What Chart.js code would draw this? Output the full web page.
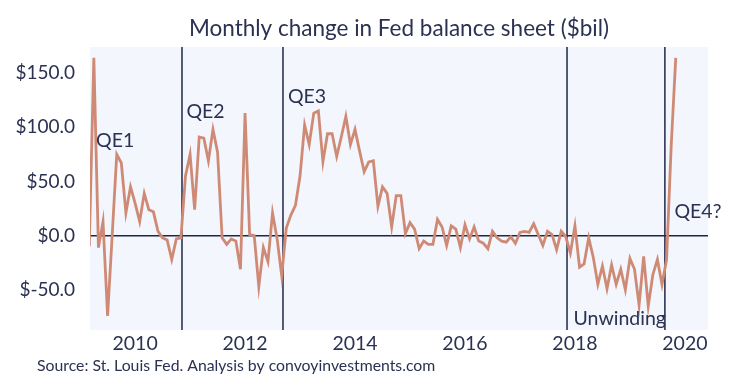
<!DOCTYPE html>
<html><head><meta charset="utf-8">
<script src="https://cdn.jsdelivr.net/npm/chart.js@4"></script>
<style>html,body{margin:0;padding:0;background:#fff;} #wrap{width:733px;height:381px;position:relative;} canvas{display:block;}</style>
</head><body><div id="wrap"><canvas id="c" width="733" height="381"></canvas></div>
<script>
// ---- data ----
const startYear = 2009;
const startMonth = 3; // March 2009
const monthlyChange = [
  -10, 164, -11, 13, -74, 0, 75, 67, 21, 45,
  30, 13, 39, 24, 22, 4, -2, -4, -22, -3,
  -2, 55, 75, 24, 91, 90, 69, 98, 77, -2,
  -8, -3, -5, -31, 113, 1, 0, -47, -11, -24,
  21, -3, -37, 7, 19, 28, 55, 102, 84, 113,
  115, 68, 94, 94, 73, 91, 110, 84, 98, 78,
  59, 68, 69, 27, 45, 39, 8, 37, 37, 2,
  12, 6, -12, -5, -8, -8, 15, 8, -9, 9,
  6, -11, 10, -3, 8, -5, -7, -12, 4, -2,
  -5, -6, -1, -7, 3, 4, 3, 11, 1, -9,
  4, 1, -13, 4, -1, -16, 9, -29, -26, -2,
  -20, -45, -28, -49, -27, -45, -31, -50, -21, -31,
  -64, -19, -65, -36, -22, -45, -22, 82, 164
];
const yTicks = [-50, 0, 50, 100, 150];
const xTicks = [2010, 2012, 2014, 2016, 2018, 2020];
const eventLines = [2010.853, 2012.69, 2017.856, 2019.636];
const annotationLabels = ['QE1', 'QE2', 'QE3', 'QE4?', 'Unwinding'];
const annotationX = [2009.29, 2010.935, 2012.78, 2019.81, 2017.975];
const annotationY = [81.8, 108.5, 122.4, 16.3, -82.4];
const titleText = 'Monthly change in Fed balance sheet ($bil)';
const sourceText = 'Source: St. Louis Fed. Analysis by convoyinvestments.com';

const points = monthlyChange.map((v, i) => ({ x: startYear + (startMonth - 1 + i) / 12, y: v }));

const NAVY = '#2a3152';
const LINE_NAVY = '#1f2749';
const FONT = 'Lato';

const bgPlugin = {
  id: 'bg',
  beforeDraw(chart) {
    const { ctx, chartArea: a } = chart;
    ctx.save();
    ctx.fillStyle = '#f3f6fc';
    ctx.fillRect(a.left, a.top, a.right - a.left, a.bottom - a.top);
    ctx.restore();
  }
};
const refLines = {
  id: 'refLines',
  beforeDatasetsDraw(chart) {
    const { ctx, chartArea: a, scales } = chart;
    ctx.save();
    ctx.strokeStyle = LINE_NAVY;
    ctx.lineWidth = 1.5;
    const y0 = scales.y.getPixelForValue(0);
    ctx.beginPath(); ctx.moveTo(a.left, y0); ctx.lineTo(a.right, y0); ctx.stroke();
    eventLines.forEach(t => {
      const x = scales.x.getPixelForValue(t);
      ctx.beginPath(); ctx.moveTo(x, a.top); ctx.lineTo(x, a.bottom); ctx.stroke();
    });
    ctx.restore();
  }
};
const labelsPlugin = {
  id: 'labels',
  afterDatasetsDraw(chart) {
    const { ctx, scales } = chart;
    ctx.save();
    ctx.fillStyle = NAVY;
    ctx.font = '19.5px ' + FONT;
    ctx.textAlign = 'left';
    ctx.textBaseline = 'alphabetic';
    annotationLabels.forEach((txt, i) => {
      ctx.fillText(txt, scales.x.getPixelForValue(annotationX[i]), scales.y.getPixelForValue(annotationY[i]));
    });
    ctx.font = '15.8px ' + FONT;
    ctx.textBaseline = 'middle';
    ctx.fillText(sourceText, 37, 366);
    ctx.restore();
  }
};

new Chart(document.getElementById('c'), {
  type: 'line',
  data: {
    datasets: [{
      data: points,
      borderColor: '#cf8a75',
      borderWidth: 2.8,
      pointRadius: 0,
      tension: 0,
      fill: false
    }]
  },
  options: {
    responsive: false,
    animation: false,
    devicePixelRatio: 1,
    layout: { padding: { top: 0, left: 0, right: 25, bottom: 11 } },
    plugins: {
      legend: { display: false },
      tooltip: { enabled: false },
      title: {
        display: true,
        text: titleText,
        fullSize: false,
        color: NAVY,
        font: { family: FONT, size: 22.5, weight: 'normal', lineHeight: 1.2 },
        padding: { top: 15, bottom: 5 }
      }
    },
    scales: {
      x: {
        type: 'linear',
        min: 2009.18,
        max: 2020.42,
        grid: { display: false },
        border: { display: false },
        ticks: {
          color: NAVY,
          font: { family: FONT, size: 19.5, lineHeight: 1.2 },
          padding: -6,
          autoSkip: false,
          maxRotation: 0,
          callback: v => String(v)
        },
        afterBuildTicks: s => { s.ticks = xTicks.map(v => ({ value: v })); },
        afterFit: s => { s.height = 40; }
      },
      y: {
        min: -87,
        max: 174,
        grid: { display: false },
        border: { display: false },
        ticks: {
          color: NAVY,
          font: { family: FONT, size: 19, lineHeight: 1.2 },
          padding: 7,
          callback: v => '$' + Number(v).toFixed(1)
        },
        afterBuildTicks: s => { s.ticks = yTicks.map(v => ({ value: v })); },
        afterFit: s => { s.width = 90; }
      }
    }
  },
  plugins: [bgPlugin, refLines, labelsPlugin]
});
</script>
</body></html>
